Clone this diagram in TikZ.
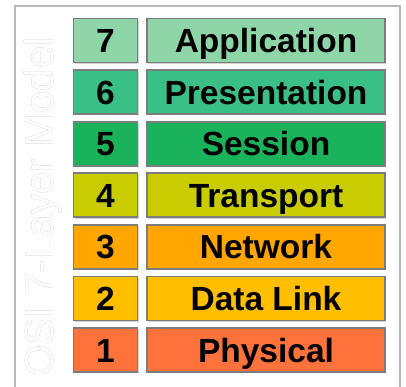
\documentclass[tikz,border=0pt]{standalone}
\usepackage{fontspec}
\setmainfont{Liberation Sans}
\usepackage{tikz}
\usepackage[outline]{contour}
\usetikzlibrary{shadows}

\definecolor{appgreen}{RGB}{142,214,168}
\definecolor{presgreen}{RGB}{58,192,134}
\definecolor{sessgreen}{RGB}{26,178,90}
\definecolor{transyellow}{RGB}{200,204,0}
\definecolor{netorange}{RGB}{255,166,0}
\definecolor{linkyellow}{RGB}{255,190,0}
\definecolor{physorange}{RGB}{255,114,60}
\definecolor{boxgray}{RGB}{125,125,125}
\definecolor{framegray}{RGB}{185,185,185}
\definecolor{titlegray}{RGB}{160,160,160}

\contourlength{0.8pt}

\begin{document}
\begin{tikzpicture}[x=1pt, y=-1pt,
    layerbox/.style = {draw=boxgray, line width=1.8pt, minimum height=44pt, inner sep=0pt,
                    text height=24pt, text depth=0pt,
                    font=\fontsize{33.5}{35}\selectfont\bfseries,
                    drop shadow={shadow xshift=1.2pt, shadow yshift=-1.2pt, opacity=0.35}},
    numbox/.style = {layerbox, minimum width=64pt},
    namebox/.style = {layerbox, minimum width=238pt}]
                \useasboundingbox (0,0) rectangle (406,387);
                \draw[framegray, line width=1.2pt] (15,400) -- (15,6) -- (400,6) -- (400,400);

                \node[text=white, rotate=90, font=\fontsize{40.5}{42}\selectfont] at (43,207) (title) {\contour{titlegray}{OSI 7-Layer Model}};

                \node[numbox, fill=appgreen] at (105.5,40.5) (n7) {7};
                \node[namebox, fill=appgreen] at (266,40.5) (l7) {Application};
                \node[numbox, fill=presgreen] at (105.5,92.1) (n6) {6};
                \node[namebox, fill=presgreen] at (266,92.1) (l6) {Presentation};
                \node[numbox, fill=sessgreen] at (105.5,143.7) (n5) {5};
                \node[namebox, fill=sessgreen] at (266,143.7) (l5) {Session};
                \node[numbox, fill=transyellow] at (105.5,195.3) (n4) {4};
                \node[namebox, fill=transyellow] at (266,195.3) (l4) {Transport};
                \node[numbox, fill=netorange] at (105.5,246.9) (n3) {3};
                \node[namebox, fill=netorange] at (266,246.9) (l3) {Network};
                \node[numbox, fill=linkyellow] at (105.5,298.5) (n2) {2};
                \node[namebox, fill=linkyellow] at (266,298.5) (l2) {Data Link};
                \node[numbox, fill=physorange] at (105.5,350) (n1) {1};
                \node[namebox, fill=physorange] at (266,350) (l1) {Physical};
            \end{tikzpicture}
\end{document}
